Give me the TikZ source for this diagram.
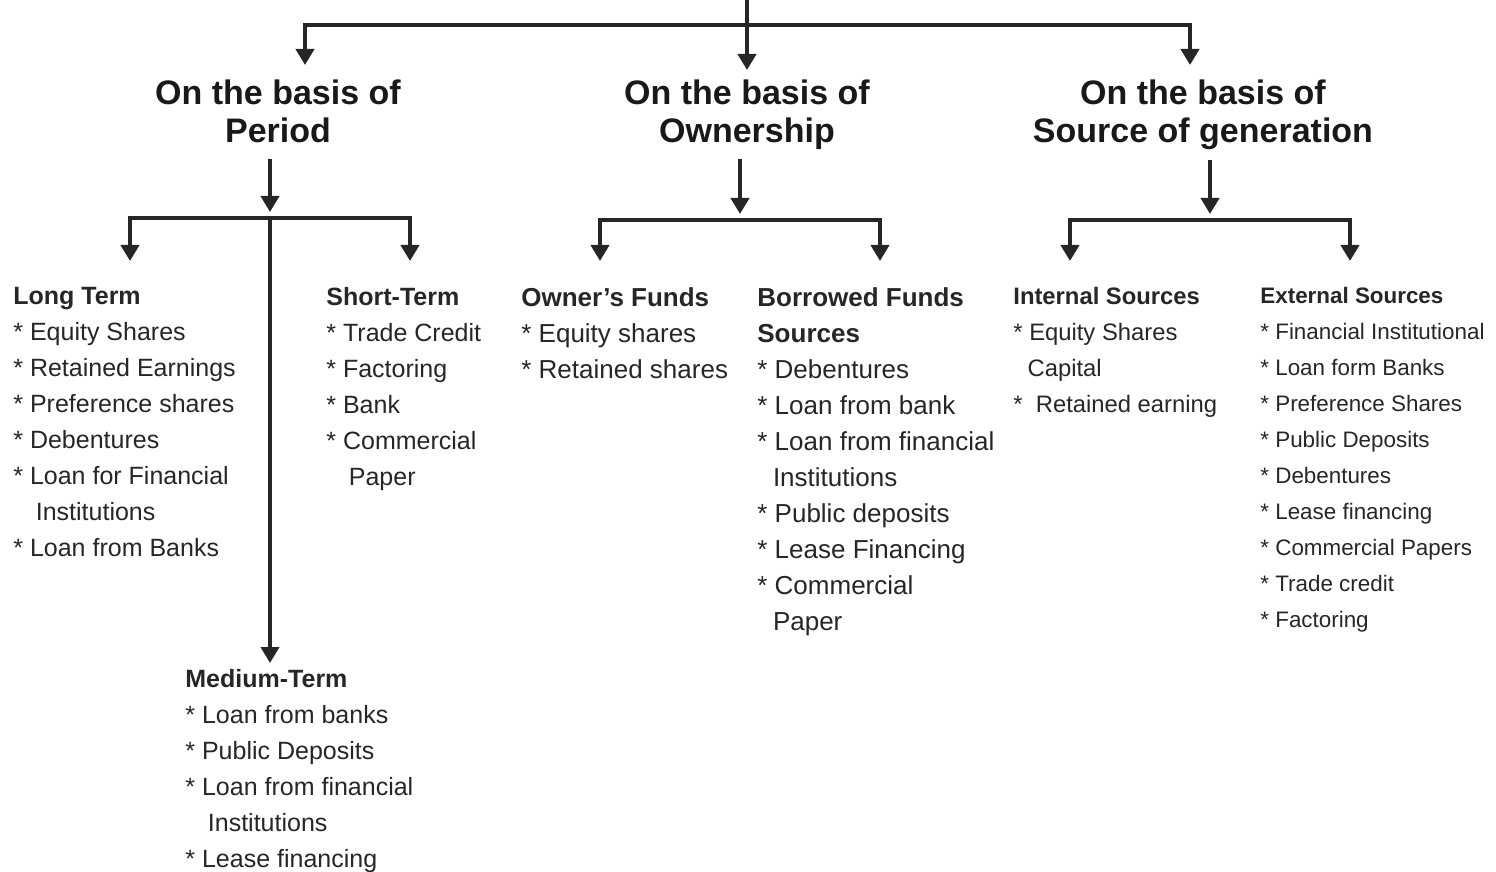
\documentclass[tikz,border=0pt]{standalone}
\usepackage{fontspec}
\setmainfont{Liberation Sans}
\usetikzlibrary{arrows.meta, positioning}
\newcommand{\cont}{\hspace*{0.9em}}

\begin{document}
\begin{tikzpicture}[x=0.5pt, y=-0.5pt]
\tikzstyle{link}=[draw=black!85, line width=2pt]
\tikzstyle{arr}=[link, -{Triangle[width=9pt,length=8pt]}]
\tikzstyle{basis}=[anchor=north, inner sep=0pt, align=center, text=black!90, font=\bfseries\fontsize{17}{19}\selectfont]
\tikzstyle{items}=[anchor=north west, inner sep=0pt, align=left, text=black!85, font=\fontsize{12.5}{18}\selectfont]
%
\useasboundingbox (0,0) rectangle (1496,872);
\begin{scope}

\coordinate (root) at (747,0);
\coordinate (topbar) at (747,25);
\node [basis] (per) at (278,79) {On the basis of\\Period};
\node [basis] (own) at (747,79) {On the basis of\\Ownership};
\node [basis] (gen) at (1203,79) {On the basis of\\Source of generation};

\node [items] (lt) at (13,287) {\textbf{Long Term}\\
  * Equity Shares\\
  * Retained Earnings\\
  * Preference shares\\
  * Debentures\\
  * Loan for Financial\\
  \cont Institutions\\
  * Loan from Banks};
\node [items] (st) at (326,287) {\textbf{Short-Term}\\
  * Trade Credit\\
  * Factoring\\
  * Bank\\
  * Commercial\\
  \cont Paper};
\node [items] (mt) at (185,669) {\textbf{Medium-Term}\\
  * Loan from banks\\
  * Public Deposits\\
  * Loan from financial\\
  \cont Institutions\\
  * Lease financing};
\node [items, font=\fontsize{13}{18}\selectfont] (ofd) at (521,287) {\textbf{Owner's Funds}\\
  * Equity shares\\
  * Retained shares};
\node [items, font=\fontsize{13}{18}\selectfont] (bfd) at (757,287) {\textbf{Borrowed Funds}\\
  \textbf{Sources}\\
  * Debentures\\
  * Loan from bank\\
  * Loan from financial\\
  \hspace*{0.6em}Institutions\\
  * Public deposits\\
  * Lease Financing\\
  * Commercial\\
  \hspace*{0.6em}Paper};
\node [items, font=\fontsize{11.9}{18}\selectfont] (ins) at (1013,287) {\textbf{Internal Sources}\\
  * Equity Shares\\
  \hspace*{0.6em}Capital\\
  *\ \ Retained earning};
\node [items, font=\fontsize{11.2}{18}\selectfont] (exs) at (1260,287) {\textbf{External Sources}\\
  * Financial Institutional\\
  * Loan form Banks\\
  * Preference Shares\\
  * Public Deposits\\
  * Debentures\\
  * Lease financing\\
  * Commercial Papers\\
  * Trade credit\\
  * Factoring};

% top level
\draw [arr, shorten >=4.5pt] (root) -- (own.north);
\draw [arr, shorten >=7pt] (topbar) -| ([xshift=13.5pt]per.north);
\draw [arr, shorten >=7pt] (topbar) -| ([xshift=-6.5pt]gen.north);

% period
\coordinate (perJ) at (270,218);
\draw [arr, shorten <=8pt, shorten >=3pt] ([xshift=-4pt]per.south) -- (perJ);
\draw [arr, shorten >=3pt] (perJ) -- ([xshift=42.5pt]mt.north west);
\draw [arr, shorten >=13pt] (perJ) -| ([xshift=58.5pt]lt.north west);
\draw [arr, shorten >=13pt] (perJ) -| ([xshift=42pt]st.north west);

% ownership
\coordinate (ownJ) at (740,220);
\draw [arr, shorten <=5pt, shorten >=3pt] ([xshift=-3.5pt]own.south) -- (ownJ);
\draw [arr, shorten >=13pt] (ownJ) -| ([xshift=39.5pt]ofd.north west);
\draw [arr, shorten >=13pt] (ownJ) -| ([xshift=61.5pt]bfd.north west);

% source of generation
\coordinate (genJ) at (1210,220);
\draw [arr, shorten <=5pt, shorten >=3pt] ([xshift=3.5pt]gen.south) -- (genJ);
\draw [arr, shorten >=13pt] (genJ) -| ([xshift=28.5pt]ins.north west);
\draw [arr, shorten >=13pt] (genJ) -| ([xshift=45pt]exs.north west);

\end{scope}
%
\end{tikzpicture}
\end{document}
